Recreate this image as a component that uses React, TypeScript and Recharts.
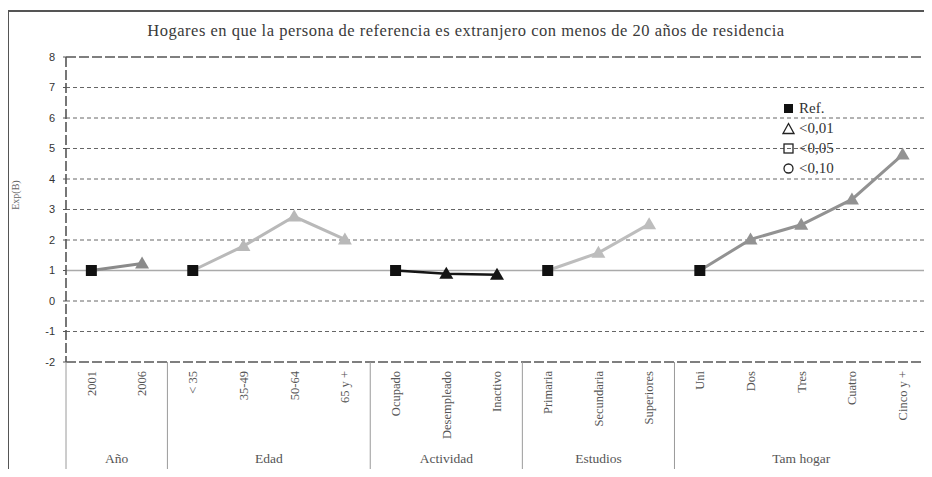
import {
  LineChart,
  Line,
  XAxis,
  YAxis,
  CartesianGrid,
  ReferenceLine,
  Legend,
  Label,
} from "recharts";

// categories on the x axis, grouped by variable
const categories = [
  "2001", "2006",
  "< 35", "35-49", "50-64", "65 y +",
  "Ocupado", "Desempleado", "Inactivo",
  "Primaria", "Secundaria", "Superiores",
  "Uni", "Dos", "Tres", "Cuatro", "Cinco y +",
];
const groupNames = ["Año", "Edad", "Actividad", "Estudios", "Tam hogar"];
const groupSizes = [2, 4, 3, 3, 5];

// Exp(B) per group
const anio = [1, 1.23];
const edad = [1, 1.8, 2.77, 2.02];
const actividad = [1, 0.89, 0.86];
const estudios = [1, 1.58, 2.52];
const tamHogar = [1, 2.02, 2.5, 3.33, 4.8];

// marker per category: reference or p<0,01
const significance = [
  "ref", "p01",
  "ref", "p01", "p01", "p01",
  "ref", "p01", "p01",
  "ref", "p01", "p01",
  "ref", "p01", "p01", "p01", "p01",
];
const legendLabels = ["Ref.", "<0,01", "<0,05", "<0,10"];
const yTicks = [-2, -1, 0, 1, 2, 3, 4, 5, 6, 7, 8];
const gridValues = yTicks.slice(1, -1);

const W = 932;
const H = 477;
const PLOT_LEFT = 66;
const PLOT_RIGHT = 928;
const PLOT_BOTTOM = 362;
const STEP = (PLOT_RIGHT - PLOT_LEFT) / categories.length;
const SERIF = '"Liberation Serif", "DejaVu Serif", serif';
const SANS = '"Liberation Sans", Arial, sans-serif';

const seriesDefs = [
  { key: "anio", values: anio, color: "#8a8a8a", width: 3 },
  { key: "edad", values: edad, color: "#b9b9b9", width: 3 },
  { key: "actividad", values: actividad, color: "#151515", width: 2.5 },
  { key: "estudios", values: estudios, color: "#bdbdbd", width: 3 },
  { key: "tamHogar", values: tamHogar, color: "#929292", width: 3 },
];

const data: Record<string, string | number>[] = categories.map((c) => ({ cat: c }));
let start = 0;
seriesDefs.forEach((s) => {
  s.values.forEach((v, j) => {
    data[start + j][s.key] = v;
  });
  start += s.values.length;
});

const groupStart = groupSizes.map((_, g) =>
  groupSizes.slice(0, g).reduce((a, b) => a + b, 0)
);

const makeDot = (color: string) => (props: any) => {
  const { cx, cy, index, value } = props;
  if (cx == null || cy == null || value == null) return <g key={`e-${index}`} />;
  if (significance[index] === "ref") {
    return (
      <rect key={`d-${index}`} x={cx - 5.5} y={cy - 5.5} width={11} height={11} fill="#111" />
    );
  }
  return (
    <path
      key={`d-${index}`}
      d={`M${cx},${cy - 7} L${cx + 7},${cy + 5} L${cx - 7},${cy + 5} Z`}
      fill={color}
    />
  );
};

function CategoryTick(props: any) {
  const { x, index, payload } = props;
  const g = groupStart.indexOf(index);
  const top = PLOT_BOTTOM + 9;
  return (
    <g>
      <text
        transform={`rotate(-90, ${x}, ${top})`}
        x={x}
        y={top}
        dy="0.35em"
        textAnchor="end"
        fontFamily={SERIF}
        fontSize={12.5}
        fill="#555"
      >
        {payload.value}
      </text>
      {g >= 0 && (
        <>
          <line x1={x - STEP / 2} x2={x - STEP / 2} y1={PLOT_BOTTOM} y2={H} stroke="#9a9a9a" />
          <text
            x={x - STEP / 2 + (groupSizes[g] * STEP) / 2}
            y={463}
            textAnchor="middle"
            fontFamily={SERIF}
            fontSize={13.5}
            fill="#555"
          >
            {groupNames[g]}
          </text>
        </>
      )}
      {index === categories.length - 1 && (
        <line x1={x + STEP / 2} x2={x + STEP / 2} y1={PLOT_BOTTOM} y2={H} stroke="#9a9a9a" />
      )}
    </g>
  );
}

function legendSymbol(i: number) {
  if (i === 0) return <rect x={2} y={2} width={9} height={9} fill="#111" />;
  if (i === 1) return <path d="M6.5,1.5 L12,11.5 L1,11.5 Z" fill="none" stroke="#222" strokeWidth={1.3} />;
  if (i === 2) return <rect x={2} y={2} width={9} height={9} fill="none" stroke="#222" strokeWidth={1.3} />;
  return <circle cx={6.5} cy={6.5} r={4.5} fill="none" stroke="#222" strokeWidth={1.3} />;
}

function SignificanceLegend() {
  return (
    <div style={{ fontFamily: SERIF, fontSize: 15, color: "#333" }}>
      {legendLabels.map((l, i) => (
        <div key={l} style={{ display: "flex", alignItems: "center", height: 20 }}>
          <svg width={13} height={13} style={{ marginRight: 4 }}>
            {legendSymbol(i)}
          </svg>
          <span>{l}</span>
        </div>
      ))}
    </div>
  );
}

export default function App() {
  return (
    <div
      style={{
        position: "relative",
        width: W,
        height: H,
        margin: -8,
        overflow: "hidden",
        background: "#fff",
      }}
    >
      <div
        style={{
          position: "absolute",
          left: 7,
          top: 10,
          width: 920,
          height: 480,
          border: "2px solid #555",
        }}
      />
      <div
        style={{
          position: "absolute",
          top: 21,
          left: 0,
          width: W,
          textAlign: "center",
          fontFamily: SERIF,
          fontSize: 16.5,
          letterSpacing: 0.5,
          color: "#3a3a3a",
        }}
      >
        Hogares en que la persona de referencia es extranjero con menos de 20 años de residencia
      </div>
      <div style={{ position: "absolute", left: 0, top: 0 }}>
        <LineChart
          width={W}
          height={H}
          data={data}
          margin={{ top: 57, right: 3, bottom: 5, left: 8 }}
        >
          <CartesianGrid
            vertical={false}
            horizontalValues={gridValues}
            stroke="#666"
            strokeDasharray="4 3"
          />
          <XAxis
            dataKey="cat"
            height={110}
            interval={0}
            padding={{ left: STEP / 2, right: STEP / 2 }}
            tickLine={false}
            tick={<CategoryTick />}
            axisLine={{ stroke: "#555", strokeDasharray: "10 3", strokeWidth: 1.6 }}
          />
          <YAxis
            width={58}
            domain={[-2, 8]}
            ticks={yTicks}
            allowDataOverflow
            tickSize={3}
            tickMargin={8}
            tick={{ fontSize: 11, fill: "#333", fontFamily: SANS }}
            tickLine={{ stroke: "#555" }}
            axisLine={{ stroke: "#555", strokeDasharray: "10 3", strokeWidth: 1.6 }}
          >
            <Label
              content={() => (
                <text
                  transform="rotate(-90, 15, 195)"
                  x={15}
                  y={195}
                  dy="0.35em"
                  textAnchor="middle"
                  fontFamily={SERIF}
                  fontSize={10}
                  fill="#666"
                >
                  Exp(B)
                </text>
              )}
            />
          </YAxis>
          <YAxis
            yAxisId="r"
            orientation="right"
            width={1}
            domain={[-2, 8]}
            tick={false}
            tickLine={false}
            axisLine={{ stroke: "#555", strokeDasharray: "10 3", strokeWidth: 1.6 }}
          />
          <ReferenceLine y={8} stroke="#555" strokeDasharray="10 3" strokeWidth={1.6} />
          <ReferenceLine y={1} stroke="#aaa" strokeWidth={1.5} />
          <Legend
            layout="vertical"
            align="center"
            verticalAlign="middle"
            content={<SignificanceLegend />}
            wrapperStyle={{ left: 782, top: 98, width: 90 }}
          />
          {seriesDefs.map((s) => (
            <Line
              key={s.key}
              dataKey={s.key}
              stroke={s.color}
              strokeWidth={s.width}
              dot={makeDot(s.color)}
              activeDot={false}
              isAnimationActive={false}
              legendType="none"
            />
          ))}
        </LineChart>
      </div>
    </div>
  );
}
